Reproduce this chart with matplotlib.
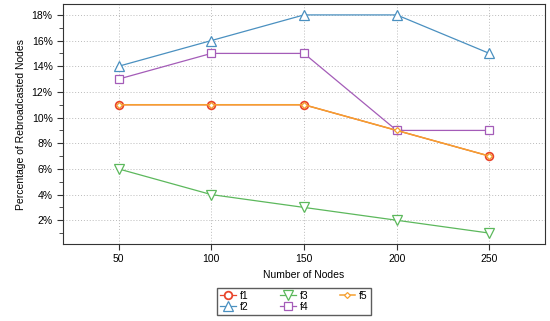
import matplotlib.pyplot as plt
from matplotlib.ticker import MultipleLocator, FuncFormatter

plt.rcParams['font.family'] = ['Liberation Sans', 'DejaVu Sans']
plt.rcParams['font.size'] = 7.5

nodes = [50, 100, 150, 200, 250]
f1 = [11, 11, 11, 9, 7]
f2 = [14, 16, 18, 18, 15]
f3 = [6, 4, 3, 2, 1]
f4 = [13, 15, 15, 9, 9]
f5 = [11, 11, 11, 9, 7]

fig = plt.figure(figsize=(5.5, 3.21), dpi=100)
ax = fig.add_axes([63 / 550, 1 - 244 / 321, 482 / 550, 240 / 321])

ax.plot(nodes, f1, color='#e8452c', marker='o', ms=5.5, mfc='white', mew=1.3, lw=0.9, label='f1', zorder=3)
ax.plot(nodes, f2, color='#4a90c0', marker='^', ms=7, mfc='white', mew=0.9, lw=0.9, label='f2', zorder=3)
ax.plot(nodes, f3, color='#5cb85c', marker='v', ms=7, mfc='white', mew=0.9, lw=0.9, label='f3', zorder=3)
ax.plot(nodes, f4, color='#a45cb8', marker='s', ms=5.5, mfc='white', mew=0.9, lw=0.9, label='f4', zorder=3)
ax.plot(nodes, f5, color='#f5a030', marker='D', ms=3, mfc='white', mew=0.9, lw=1.1, label='f5', zorder=4)

ax.set_xlim(20, 280)
ax.set_ylim(0.15, 18.85)
ax.set_xticks(nodes)
ax.yaxis.set_major_locator(MultipleLocator(2))
ax.yaxis.set_minor_locator(MultipleLocator(1))
ax.yaxis.set_major_formatter(FuncFormatter(lambda v, p: '%d%%' % v if v > 0 else ''))
ax.tick_params(axis='both', which='both', direction='out', top=False, right=False, colors='#333333', labelcolor='black')
ax.tick_params(which='major', length=4)
ax.tick_params(which='minor', length=3)
ax.grid(True, linestyle=(0, (1, 2)), color='#bbbbbb', lw=0.7)
for s in ax.spines.values():
    s.set_color('#333333')

ax.set_xlabel('Number of Nodes')
ax.set_ylabel('Percentage of Rebroadcasted Nodes')

fig.legend(loc='upper left', bbox_to_anchor=(217 / 550, 1 - 288 / 321), ncol=3, frameon=True,
           fancybox=False, edgecolor='#333333', handlelength=1.5, columnspacing=3.0,
           labelspacing=0.05, borderpad=0.3, handletextpad=0.4, borderaxespad=0)

plt.savefig('out.png', dpi=100)
